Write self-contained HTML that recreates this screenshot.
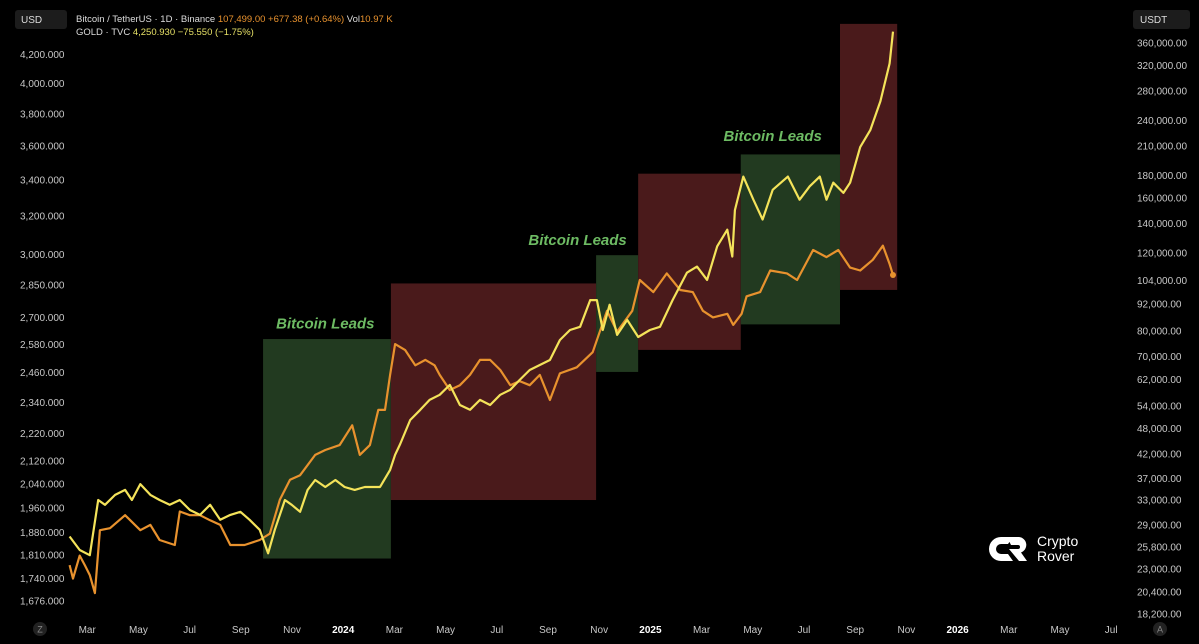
<!DOCTYPE html>
<html><head><meta charset="utf-8"><style>
body{margin:0;background:#000;width:1199px;height:644px;overflow:hidden;font-family:"Liberation Sans",sans-serif}
svg{position:absolute;left:0;top:0}
</style></head><body>
<svg id="c" width="1199" height="644" xmlns="http://www.w3.org/2000/svg"></svg>
<script>
const goldDay=[40,52,64,74,82,94,106,114,124,136,147,159,171,183,195,207,219,231,243,254,266,276,284,296,304,314,323,332,344,356,367,379,391,409,421,427,433,445,457,468,480,492,504,516,528,540,552,564,575,587,599,611,623,635,647,659,667,674,682,691,703,716,730,742,757,774,786,798,810,822,828,831,841,853,864,876,894,908,920,932,940,948,960,968,980,992,1004,1015,1019];
const goldVal=[1868,1826,1810,1986,1970,2003,2020,1986,2040,2003,1986,1970,1986,1953,1937,1970,1921,1937,1947,1921,1889,1816,1889,1986,1970,1947,2020,2054,2030,2054,2030,2020,2030,2030,2089,2143,2182,2272,2311,2350,2370,2410,2330,2311,2350,2330,2370,2390,2430,2471,2492,2513,2599,2643,2657,2779,2779,2643,2757,2621,2688,2612,2643,2657,2779,2910,2940,2875,3042,3128,2990,3233,3420,3290,3182,3345,3420,3290,3365,3420,3290,3385,3328,3385,3594,3698,3882,4136,4364];
const btcDay=[40,44,52,58,64,70,76,88,106,124,136,147,165,171,183,195,207,219,231,248,266,278,290,302,314,332,344,361,376,385,397,407,415,421,427,439,451,463,474,480,492,504,516,528,540,552,564,575,587,599,611,623,643,662,679,691,709,718,734,750,766,781,793,805,822,829,839,845,861,873,893,905,924,940,954,968,980,995,1007,1015,1019];
const btcVal=[23500,21900,24700,23500,22300,20300,28200,28500,30500,28200,29000,26800,26100,31100,30500,30500,29700,29000,26100,26100,26800,27700,33100,36700,37600,41800,42900,44000,48800,41800,44000,52900,52900,63500,74600,72300,66800,68700,66800,63500,58700,60200,63500,68700,68700,65200,60200,61500,60200,63500,55700,64000,66100,71500,88800,79600,88800,104300,97900,108000,99000,97900,88800,85800,87400,82500,87400,95800,97900,109600,108000,104300,122000,117600,122000,111300,109600,115900,124800,113400,107100];
const boxStart=[270,422,666,716,838,956];
const boxEnd=[422,666,716,838,956,1024];
const boxHi=[2603,2858,2997,3437,3550,4421];
const boxLo=[1800,1986,2463,2556,2668,2827];
const boxLead=[true,false,true,false,true,false];
const labelDay=[344,644,876];
const labelVal=[2650,3050,3630];
const leftTicks=["4,200.000","4,000.000","3,800.000","3,600.000","3,400.000","3,200.000","3,000.000","2,850.000","2,700.000","2,580.000","2,460.000","2,340.000","2,220.000","2,120.000","2,040.000","1,960.000","1,880.000","1,810.000","1,740.000","1,676.000"];
const rightTicks=["360,000.00","320,000.00","280,000.00","240,000.00","210,000.00","180,000.00","160,000.00","140,000.00","120,000.00","104,000.00","92,000.00","80,000.00","70,000.00","62,000.00","54,000.00","48,000.00","42,000.00","37,000.00","33,000.00","29,000.00","25,800.00","23,000.00","20,400.00","18,200.00"];
const monthTicks=["Mar","May","Jul","Sep","Nov","2024","Mar","May","Jul","Sep","Nov","2025","Mar","May","Jul","Sep","Nov","2026","Mar","May","Jul"];
const monthIdx=[2,4,6,8,10,12,14,16,18,20,22,24,26,28,30,32,34,36,38,40,42];

const xOf=d=>36+d*0.841;
const xOfMonth=m=>36+m*25.6;
const yL=v=>601-Math.log(v/1676)*595;
const yR=v=>614-Math.log(v/18200)*191.3;
const num=s=>parseFloat(s.replace(/,/g,''));
const svg=document.getElementById('c');
const NS='http://www.w3.org/2000/svg';
function mk(t,a,txt){const e=document.createElementNS(NS,t);for(const k in a)e.setAttribute(k,a[k]);if(txt!==undefined)e.textContent=txt;svg.appendChild(e);return e;}

boxStart.forEach((s,i)=>{
  const r=mk('rect',{x:xOf(s),y:yL(boxHi[i]),width:xOf(boxEnd[i])-xOf(s),height:yL(boxLo[i])-yL(boxHi[i]),fill:boxLead[i]?'#223a20':'#4a1a1b'});
  
  
});
labelDay.forEach((d,i)=>{
  const t=mk('text',{x:xOf(d),y:yL(labelVal[i]),'text-anchor':'middle',fill:'#6dbb63','font-size':'15','font-weight':'bold','font-style':'italic'},'Bitcoin Leads');
  
  
});

function line(days,vals,yf,col,name){
  const p=mk('polyline',{points:days.map((d,i)=>xOf(d).toFixed(1)+','+yf(vals[i]).toFixed(1)).join(' '),fill:'none',stroke:col,'stroke-width':'2.2','stroke-linejoin':'round'});
  
  
}
line(btcDay,btcVal,yR,'#e8922e','btc-line');
line(goldDay,goldVal,yL,'#f4e35a','gold-line');
const dot=mk('circle',{cx:xOf(btcDay[btcDay.length-1]),cy:yR(btcVal[btcVal.length-1]),r:3,fill:'#e8922e'});



leftTicks.forEach(s=>{const t=mk('text',{x:20,y:yL(num(s))+3.5,fill:'#c8c8c8','font-size':'10'},s);

});
rightTicks.forEach(s=>{const t=mk('text',{x:1137,y:yR(num(s))+3.5,fill:'#c8c8c8','font-size':'10'},s);

});
monthTicks.forEach((s,i)=>{const yr=/^\d{4}$/.test(s);const t=mk('text',{x:xOfMonth(monthIdx[i]),y:633,'text-anchor':'middle',fill:yr?'#ffffff':'#c8c8c8','font-size':'10','font-weight':yr?'bold':'normal'},s);

});
</script>
<svg width="1199" height="644" style="pointer-events:none" xmlns="http://www.w3.org/2000/svg">
<g><rect x="15" y="10" width="52" height="19" rx="3" fill="#1c1c1c"/><text x="21" y="23" fill="#ddd" font-size="10" font-family="Liberation Sans">USD</text></g>
<g><rect x="1133" y="10" width="57" height="19" rx="3" fill="#1c1c1c"/><text x="1140" y="23" fill="#ddd" font-size="10" font-family="Liberation Sans">USDT</text></g>
<text x="76" y="22" font-size="9.5" font-family="Liberation Sans" fill="#ddd">Bitcoin / TetherUS · 1D · Binance <tspan fill="#e8922e">107,499.00 +677.38 (+0.64%)</tspan> Vol<tspan fill="#e8922e">10.97 K</tspan></text>
<text x="76" y="35" font-size="9.5" font-family="Liberation Sans" fill="#ddd">GOLD · TVC <tspan fill="#e6e066">4,250.930 −75.550 (−1.75%)</tspan></text>
<g><circle cx="40" cy="629" r="7" fill="#222"/><text x="40" y="632.5" text-anchor="middle" fill="#888" font-size="9" font-family="Liberation Sans">Z</text></g>
<g><circle cx="1160" cy="629" r="7" fill="#222"/><text x="1160" y="632.5" text-anchor="middle" fill="#888" font-size="9" font-family="Liberation Sans">A</text></g>
<g>
<path d="M1013 537 h-12 a12 12 0 0 0 -12 12 v0 a12 12 0 0 0 12 12 h12 l-5 -7 h-7 a5 5 0 0 1 -5 -5 a5 5 0 0 1 5 -5 h7 z" fill="#fff"/>
<path d="M1007 537 h12 a8 8 0 0 1 2 15.5 l6 8.5 h-8 l-10 -12 h9 a2 2 0 0 0 0 -4 h-7 z" fill="#fff"/>
<text x="1037" y="546" fill="#fff" font-size="14" font-family="Liberation Sans">Crypto</text>
<text x="1037" y="561" fill="#fff" font-size="14" font-family="Liberation Sans">Rover</text>
</g>
</svg>
</body></html>
